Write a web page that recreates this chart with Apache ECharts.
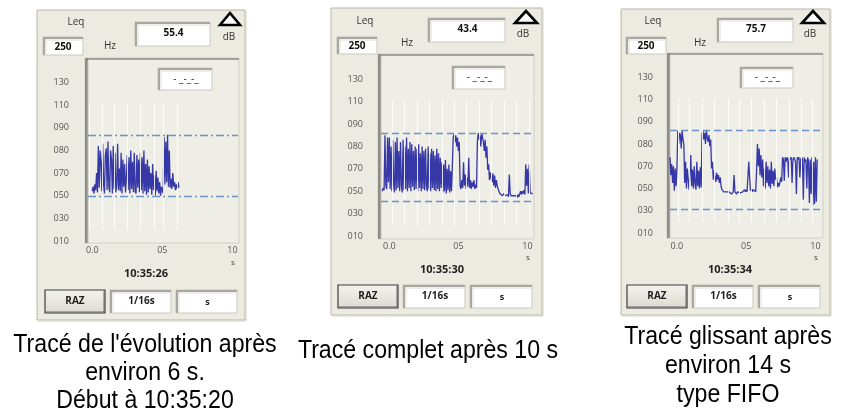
<!DOCTYPE html>
<html>
<head>
<meta charset="utf-8">
<script src="https://cdn.jsdelivr.net/npm/echarts@6/dist/echarts.min.js"></script>
<style>html,body{margin:0;padding:0;background:#fff;}#c{width:843px;height:418px;}</style>
</head>
<body>
<div id="c"></div>
<script>
// ---------- DATA ----------
const yTickLabels = ['010','030','050','070','080','090','110','130'];
const yTickDb     = [10, 30, 50, 70, 80, 90, 110, 130];
const xTickValues = [0, 5, 10];
const xTickLabels = ['0.0', '05', '10'];

const leqValues  = ['55.4', '43.4', '75.7'];
const clockTimes = ['10:35:26', '10:35:30', '10:35:34'];
const bandLabel  = '250';
const captions = [
  ["Tracé de l'évolution après", 'environ 6 s.', 'Début à 10:35:20'],
  ['Tracé complet après 10 s'],
  ['Tracé glissant après', 'environ 14 s', 'type FIFO']
];

// sample period 1/16 s and start time of each trace
const sampleStep = 0.0625;
const traceStart = [0, -0.5, -0.5];

const trace1 = [54,58,52,60,55,70,53,82, 57,80,75,54,83,60,52,78,
                81,55,84,58,53,80,76,52, 82,56,79,53,60,83,55,72,
                54,79,52,76,58,74,53,66, 78,55,77,52,80,56,75,53,
                79,54,52,78,57,76,53,79, 55,77,52,80,54,74,51,76,
                53,73,56,70,51,74,55,68, 50,71,54,66,52,62,50,58,
                55,52,86,60,84,62,87,58, 80,57,65,56,70,58,62,55,
                60,56,62,57];
const trace2 = [50,53,51,85,55,52,84,58, 84,52,80,50,83,56,49,82,
                51,84,53,78,50,82,55,49, 83,51,80,52,84,50,79,53,
                82,50,81,54,78,51,80,52, 79,50,81,53,77,50,80,52,
                78,51,79,55,50,80,52,77, 50,79,53,78,51,76,50,79,
                52,77,50,75,53,73,49,72, 50,74,48,70,51,72,49,68,
                50,71,84,86,82,85,80,84, 78,82,55,52,60,53,73,55,
                65,52,62,54,75,53,60,52, 58,54,60,52,56,53,82,86,
                83,85,80,86,84,82,78,83, 75,80,69,72,60,67,62,58,
                66,55,64,53,60,55,52,50, 48,47,48,46,47,48,46,47,
                46,47,45,65,48,46,47,45, 46,47,45,46,44,47,45,46,
                50,47,50,48,51,47,72,55, 70,48,72,50,48,47,48];
const trace3 = [74,62,71,55,70,48,68,52, 67,86,80,85,84,78,86,82,
                80,55,72,50,68,58,49,66, 75,52,67,50,70,54,49,72,
                52,66,50,69,51,84,86,82, 85,80,86,83,81,84,79,82,
                68,72,58,66,60,56,64,58, 62,55,60,52,49,48,47,48,
                46,47,46,48,47,46,47,45, 46,47,62,47,46,45,47,46,
                48,46,47,45,47,48,49,47, 49,47,48,72,60,48,50,47,
                49,48,50,47,66,80,70,78, 62,75,60,73,52,68,50,72,
                55,70,52,67,50,72,54,66, 52,68,58,60,51,55,52,51,
                60,56,74,73,57,74,72,74, 73,60,74,73,74,55,73,74,
                73,72,45,74,73,74,60,73, 74,73,40,74,72,73,50,74,
                72,37,73,45,74,35,72,36, 74,38,73];

// max / min reference lines (dB)
const maxLines = [86.8, 86.1, 86.4];
const minLines = [50, 40.9, 31];

// vertical time markers (s)
const markerTimes = [
  [-0.2,0.7,1.6,2.5,3.4,4.4,5.1,6.1],
  [0.2,1.1,2.0,2.9,3.8,4.7,5.6,6.5,7.4,8.3,9.2,10.1],
  [0.07,0.9,1.8,2.7,3.7,4.5,5.4,6.3,7.2,8.1,9.0,9.8]
];

// ---------- LAYOUT ----------
const L = [
  { outer:[37,10,208,310], leq:[76,22], b250:[43,37,40,18], hz:[110,46], val:[135,22,75,24],
    tri:[220,13,20,12], dB:[229,37], small:[158,68,54,22], frame:[85,58,154,185],
    grid:{left:88,top:60,width:150,height:181}, xmin:-0.3, xmax:10.4, ylm:19, xlm:5,
    sUnit:[233,263], time:[146,274], raz:[45,290,60,23], b116:[110,290,61,23], bs:[176,290,61,23],
    cap:[145,345], capGap:28, dash:[8,3,2,3] },
  { outer:[331,8,211,307], leq:[365,21], b250:[337,37,40,17], hz:[407,43], val:[428,18,77,24],
    tri:[515,11,22,12], dB:[523,34], small:[452,66,53,23], frame:[378,54,156,185],
    grid:{left:381,top:57,width:152,height:179}, xmin:-0.6, xmax:10.4, ylm:18, xlm:6,
    sUnit:[528,258], time:[442,270], raz:[338,285,60,23], b116:[403,285,62,23], bs:[470,285,62,23],
    cap:[428,351], capGap:28, dash:[7,4] },
  { outer:[621,9,209,306], leq:[653,21], b250:[626,37,40,17], hz:[700,43], val:[717,18,76,24],
    tri:[802,11,22,12], dB:[810,34], small:[740,67,53,21], frame:[667,53,156,185],
    grid:{left:670,top:55,width:151,height:178}, xmin:-0.5, xmax:10.4, ylm:17, xlm:9,
    sUnit:[816,258], time:[730,270], raz:[627,285,60,23], b116:[692,285,61,23], bs:[758,285,62,23],
    cap:[728,337], capGap:29, dash:[7,4] }
];

// ---------- HELPERS ----------
function dbToAxis(v) {
  if (v <= yTickDb[0]) return (v - yTickDb[0]) / (yTickDb[1] - yTickDb[0]);
  for (let i = 0; i < yTickDb.length - 1; i++) {
    if (v <= yTickDb[i + 1]) return i + (v - yTickDb[i]) / (yTickDb[i + 1] - yTickDb[i]);
  }
  const n = yTickDb.length - 1;
  return n + (v - yTickDb[n]) / (yTickDb[n] - yTickDb[n - 1]);
}
const UI_FONT = 'Open Sans, DejaVu Sans, sans-serif';
function rect(x, y, w, h, style, z) { return { type:'rect', shape:{x, y, width:w, height:h}, style, z: z || 0, silent:true }; }
function seg(x1, y1, x2, y2, stroke, lw, z) { return { type:'line', shape:{x1, y1, x2, y2}, style:{stroke, lineWidth:lw}, z: z || 1, silent:true }; }
function txt(x, y, s, o) {
  o = o || {};
  return { type:'text', x, y, z: 3, silent:true, scaleX: o.scaleX || 1,
    style:{ text:s, fill:o.fill || '#333', font: (o.weight || 'normal') + ' ' + (o.size || 10) + 'px ' + (o.family || UI_FONT),
            textAlign:o.align || 'center', textVerticalAlign:'middle' } };
}
function sunken(b, z) {
  const [x, y, w, h] = b;
  return [
    rect(x, y, w, h, {fill:'#ffffff', stroke:'#c9c7bd', lineWidth:1}, z),
    seg(x, y + 1, x + w, y + 1, '#a9a79f', 2, (z||0)+1),
    seg(x + 1, y, x + 1, y + h, '#a9a79f', 2, (z||0)+1),
    seg(x + 2, y + 3, x + w - 1, y + 3, '#dedcd4', 1, (z||0)+1),
    seg(x + 3, y + 2, x + 3, y + h - 1, '#dedcd4', 1, (z||0)+1)
  ];
}
function button(b) {
  const [x, y, w, h] = b;
  return [
    rect(x, y, w, h, {fill:{type:'linear', x:0, y:0, x2:0, y2:1, colorStops:[{offset:0,color:'#f4f3ee'},{offset:1,color:'#dcdad0'}]},
                      stroke:'#3c3c3c', lineWidth:1.2}, 1),
    seg(x + 1, y + h - 1, x + w - 1, y + h - 1, '#6a6a6a', 1, 2),
    seg(x + w - 1, y + 1, x + w - 1, y + h - 1, '#6a6a6a', 1, 2)
  ];
}

// ---------- BUILD ----------
const graphics = [];
L.forEach((p, i) => {
  const [ox, oy, ow, oh] = p.outer;
  graphics.push(rect(ox, oy, ow, oh, {fill:'#ecebe2', stroke:'#b9b5a3', lineWidth:1}, 0));
  graphics.push(seg(ox + 1, oy + oh + 1, ox + ow + 1, oy + oh + 1, '#d6d3c6', 1, 0));
  graphics.push(seg(ox + ow + 1, oy + 1, ox + ow + 1, oy + oh + 1, '#d6d3c6', 1, 0));
  graphics.push(txt(p.leq[0], p.leq[1], 'Leq', {size:10}));
  graphics.push(...sunken(p.b250, 1));
  graphics.push(txt(p.b250[0] + p.b250[2] / 2, p.b250[1] + p.b250[3] / 2 + 1, bandLabel, {weight:'bold', size:10, fill:'#111'}));
  graphics.push(txt(p.hz[0], p.hz[1], 'Hz', {size:10}));
  graphics.push(...sunken(p.val, 1));
  graphics.push(txt(p.val[0] + p.val[2] / 2 + 1, p.val[1] + p.val[3] / 2 - 1, leqValues[i], {weight:'bold', size:10, fill:'#111'}));
  const [tx, ty, tw, th] = p.tri;
  graphics.push({ type:'polygon', shape:{points:[[tx + tw / 2, ty], [tx, ty + th], [tx + tw, ty + th]]},
                  style:{fill:'#ffffff', stroke:'#000', lineWidth:2.6, lineJoin:'miter'}, z:2, silent:true });
  graphics.push(txt(p.dB[0], p.dB[1], 'dB', {size:10}));
  // plot frame
  const [fx, fy, fw, fh] = p.frame;
  graphics.push(rect(fx, fy, fw, fh, {fill:'#eeede6', stroke:'#d2d0c6', lineWidth:1}, 0));
  graphics.push(seg(fx, fy + 1, fx + fw, fy + 1, '#a4a29c', 2, 1));
  graphics.push(seg(fx + 1.5, fy, fx + 1.5, fy + fh, '#8e8c86', 3, 1));
  graphics.push(seg(fx + 3, fy + 3, fx + 3, fy + fh, '#c4c2ba', 1, 1));
  graphics.push(...sunken(p.small, 1));
  graphics.push(txt(p.small[0] + p.small[2] / 2 + 1, p.small[1] + p.small[3] / 2, '- _-_-_', {size:10, fill:'#222'}));
  graphics.push(txt(p.sUnit[0], p.sUnit[1], 's', {size:8, fill:'#444'}));
  graphics.push(txt(p.time[0], p.time[1], clockTimes[i], {weight:'bold', size:11, fill:'#222'}));
  graphics.push(...button(p.raz));
  graphics.push(txt(p.raz[0] + p.raz[2] / 2, p.raz[1] + p.raz[3] / 2, 'RAZ', {weight:'bold', size:10, fill:'#222'}));
  graphics.push(...sunken(p.b116, 1));
  graphics.push(txt(p.b116[0] + p.b116[2] / 2 + 1, p.b116[1] + p.b116[3] / 2, '1/16s', {weight:'bold', size:10, fill:'#222'}));
  graphics.push(...sunken(p.bs, 1));
  graphics.push(txt(p.bs[0] + p.bs[2] / 2 + 1, p.bs[1] + p.bs[3] / 2 + 1, 's', {weight:'bold', size:9, fill:'#222'}));
  captions[i].forEach((line, k) => {
    graphics.push(txt(p.cap[0], p.cap[1] + k * p.capGap, line,
      {size:26, scaleX:0.89, fill:'#000', family:'Liberation Sans, Arial, sans-serif'}));
  });
});

const traces = [trace1, trace2, trace3];
const grids = [], xAxes = [], yAxes = [], series = [];
L.forEach((p, i) => {
  grids.push(Object.assign({ outerBoundsMode:'none', containLabel:false }, p.grid));
  xAxes.push({ type:'value', gridIndex:i, min:p.xmin, max:p.xmax,
    axisLine:{show:false}, axisTick:{show:false}, splitLine:{show:false},
    axisLabel:{ customValues:xTickValues, margin:p.xlm, color:'#555', fontSize:9, fontFamily:UI_FONT,
      formatter:(v) => { const k = xTickValues.indexOf(Math.round(v)); return k >= 0 ? xTickLabels[k] : ''; } } });
  yAxes.push({ type:'value', gridIndex:i, min:0, max:yTickLabels.length,
    axisLine:{show:false}, axisTick:{show:false}, splitLine:{show:false},
    axisLabel:{ customValues:yTickLabels.map((_, k) => k), margin:p.ylm, color:'#555', fontSize:9, fontFamily:UI_FONT,
      formatter:(v) => yTickLabels[Math.round(v)] || '' } });
  series.push({ type:'line', xAxisIndex:i, yAxisIndex:i, data:[], z:1, silent:true, animation:false,
    markLine:{ silent:true, symbol:['none','none'], label:{show:false}, animation:false,
      lineStyle:{color:'#ffffff', width:1, type:'solid', opacity:0.85},
      data: markerTimes[i].map(t => [{coord:[t, 6.05]}, {coord:[t, 0.5]}]) } });
  series.push({ type:'line', xAxisIndex:i, yAxisIndex:i, z:3, silent:true, animation:false,
    showSymbol:false, symbol:'none', sampling:null, clip:true,
    lineStyle:{ color:'#2123a0', width:1.3, opacity:0.9 },
    data: traces[i].map((v, k) => [traceStart[i] + k * sampleStep, dbToAxis(v)]),
    markLine:{ silent:true, symbol:['none','none'], label:{show:false}, animation:false,
      lineStyle:{color:'#6d94c6', width:1.3, type:p.dash, opacity:1, shadowBlur:0},
      data:[{yAxis:dbToAxis(maxLines[i])}, {yAxis:dbToAxis(minLines[i])}] } });
});

const chart = echarts.init(document.getElementById('c'), null, {renderer:'canvas'});
chart.setOption({
  animation:false,
  backgroundColor:'#ffffff',
  graphic:{ elements:graphics },
  grid:grids, xAxis:xAxes, yAxis:yAxes, series:series
});
</script>
</body>
</html>
